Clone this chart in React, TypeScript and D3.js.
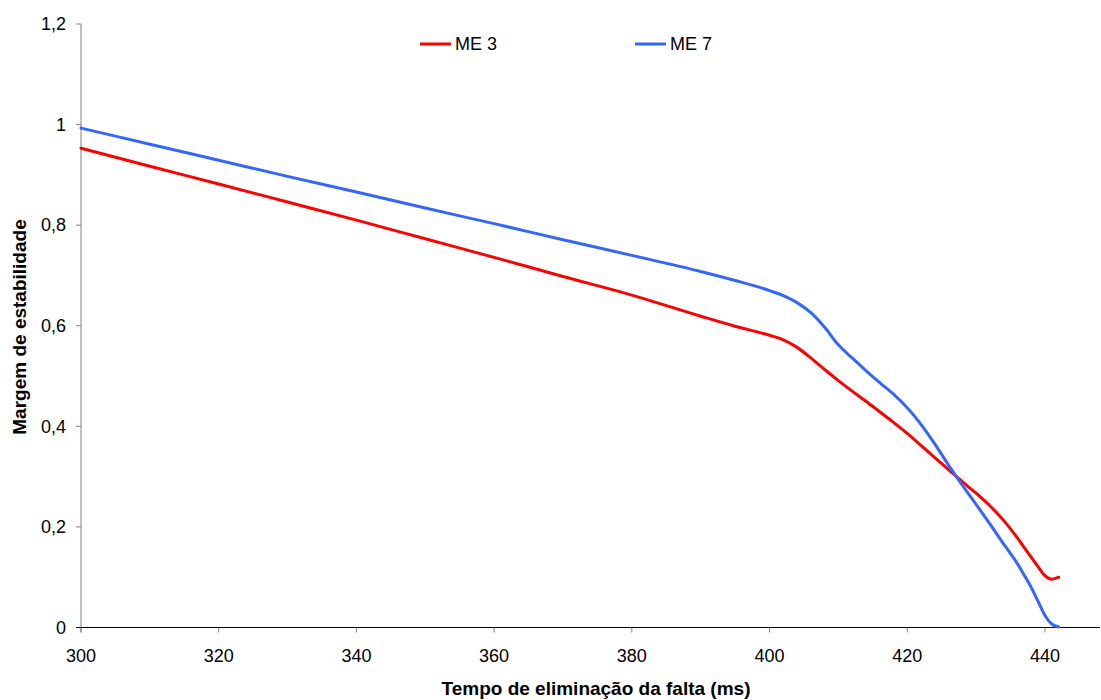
import React from "react";
import * as d3 from "d3";

const xValues = [300, 310, 320, 330, 340, 350, 360, 370, 380, 390, 395, 400, 402, 404, 406, 408, 410, 412, 414, 416, 418, 420, 422, 424, 426, 428, 430, 432, 434, 435, 436, 437, 438, 439, 440, 441, 442];
const me3 = [0.953, 0.917, 0.882, 0.846, 0.81, 0.773, 0.736, 0.698, 0.661, 0.619, 0.599, 0.581, 0.572, 0.557, 0.536, 0.513, 0.491, 0.47, 0.45, 0.429, 0.408, 0.386, 0.362, 0.338, 0.314, 0.29, 0.267, 0.242, 0.213, 0.196, 0.178, 0.159, 0.14, 0.121, 0.103, 0.096, 0.1];
const me7 = [0.993, 0.961, 0.929, 0.897, 0.866, 0.834, 0.803, 0.771, 0.74, 0.708, 0.69, 0.67, 0.66, 0.646, 0.626, 0.597, 0.562, 0.536, 0.511, 0.487, 0.464, 0.437, 0.404, 0.365, 0.323, 0.283, 0.245, 0.206, 0.166, 0.147, 0.127, 0.104, 0.08, 0.052, 0.024, 0.007, 0.001];
const xTicks = [300, 320, 340, 360, 380, 400, 420, 440];
const yTicks = [0, 0.2, 0.4, 0.6, 0.8, 1, 1.2];
const seriesNames = ["ME 3", "ME 7"];
const seriesColors = ["#ff0000", "#3366ff"];

export default function App() {
  const x = d3.scaleLinear().domain([300, 448]).range([81, 1100]);
  const y = d3.scaleLinear().domain([0, 1.2]).range([627.5, 24]);
  const line = d3
    .line<[number, number]>()
    .x((d) => x(d[0]))
    .y((d) => y(d[1]))
    .curve(d3.curveMonotoneX);
  const series = [me3, me7];
  const fmt = (v: number) => String(+v.toFixed(1)).replace(".", ",");
  const font = "'Liberation Sans', Arial, sans-serif";
  const legendX = [420, 635];
  return (
    <svg width={1101} height={700} style={{ position: "absolute", left: 0, top: 0, display: "block" }} fontFamily={font}>
      <rect width={1101} height={700} fill="#fff" />
      <line x1={x(300)} x2={x(300)} y1={y(1.2)} y2={y(0) + 5} stroke="#808080" strokeWidth={1} />
      {yTicks.map((t) => (
        <g key={t}>
          <line x1={x(300) - 5} x2={x(300)} y1={y(t)} y2={y(t)} stroke="#808080" />
          <text x={66} y={y(t)} dy="0.35em" textAnchor="end" fontSize={18} fill="#000">
            {fmt(t)}
          </text>
        </g>
      ))}
      <line x1={x(300) - 5} x2={1100} y1={y(0)} y2={y(0)} stroke="#000" strokeWidth={1} />
      {xTicks.map((t) => (
        <g key={t}>
          <line x1={x(t)} x2={x(t)} y1={y(0)} y2={y(0) + 5} stroke="#808080" />
          <text x={x(t)} y={656} dy="0.35em" textAnchor="middle" fontSize={18} fill="#000">
            {t}
          </text>
        </g>
      ))}
      {series.map((s, i) => (
        <path
          key={i}
          d={line(xValues.map((xv, j) => [xv, s[j]] as [number, number])) || ""}
          fill="none"
          stroke={seriesColors[i]}
          strokeWidth={3}
          strokeLinejoin="round"
          strokeLinecap="round"
        />
      ))}
      {seriesNames.map((n, i) => (
        <g key={n}>
          <line x1={legendX[i]} x2={legendX[i] + 31} y1={44} y2={44} stroke={seriesColors[i]} strokeWidth={3} />
          <text x={legendX[i] + 35} y={44} dy="0.35em" fontSize={18} fill="#000">
            {n}
          </text>
        </g>
      ))}
      <text x={596} y={688} dy="0.35em" textAnchor="middle" fontSize={19} fontWeight="bold" fill="#000">
        Tempo de eliminação da falta (ms)
      </text>
      <text transform={`translate(19,327) rotate(-90)`} dy="0.35em" textAnchor="middle" fontSize={19} fontWeight="bold" fill="#000">
        Margem de estabilidade
      </text>
    </svg>
  );
}
